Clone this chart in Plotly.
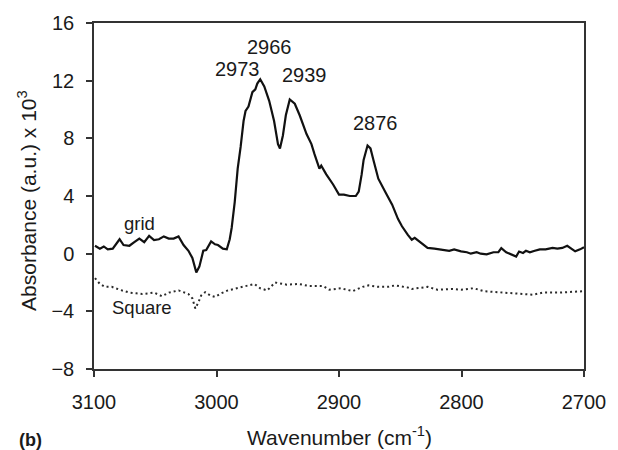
import plotly.graph_objects as go

# "grid" spectrum (solid)
grid_wn = [3099.2, 3095.2, 3092.0, 3088.8, 3084.7, 3082.3, 3079.1, 3075.9, 3071.1, 3067.1,
           3063.0, 3059.0, 3055.0, 3051.0, 3047.0, 3043.0, 3039.0, 3035.0, 3031.0, 3026.9,
           3022.9, 3019.7, 3016.5, 3014.0, 3010.8, 3008.4, 3004.4, 3001.2, 2998.8, 2994.8,
           2991.6, 2989.2, 2987.6, 2985.1, 2982.7, 2980.3, 2977.9, 2976.3, 2973.9, 2970.7,
           2968.3, 2966.7, 2964.3, 2961.0, 2957.0, 2953.0, 2949.8, 2948.2, 2945.8, 2943.4,
           2940.2, 2936.1, 2932.1, 2926.5, 2922.5, 2920.0, 2916.0, 2914.5, 2910.4, 2904.8,
           2900.0, 2896.0, 2891.2, 2886.3, 2883.9, 2881.5, 2879.9, 2876.7, 2874.3, 2871.9,
           2867.9, 2862.3, 2856.6, 2851.8, 2848.6, 2843.8, 2840.6, 2838.2, 2832.5, 2827.7,
           2822.1, 2816.5, 2814.1, 2810.0, 2806.0, 2800.4, 2795.6, 2792.4, 2787.6, 2784.3,
           2779.5, 2773.9, 2769.9, 2767.5, 2763.5, 2759.4, 2755.4, 2753.0, 2749.8, 2747.4,
           2744.2, 2740.2, 2736.1, 2731.3, 2725.7, 2721.7, 2717.7, 2713.7, 2709.6, 2707.2,
           2703.2, 2700.0]
grid_abs = [0.55, 0.35, 0.5, 0.3, 0.35, 0.6, 1.0, 0.6, 0.55, 0.8,
            1.05, 0.8, 1.24, 0.95, 1.0, 1.2, 1.05, 1.05, 1.2, 0.6,
            0.2, -0.3, -1.3, -0.9, 0.2, 0.25, 0.85, 0.65, 0.6, 0.35,
            0.3, 1.0, 1.8, 3.6, 5.9, 7.4, 9.2, 9.9, 10.2, 11.2,
            11.4, 11.8, 12.1, 11.6, 10.6, 9.2, 7.6, 7.3, 8.2, 9.6,
            10.7, 10.4, 9.6, 8.3, 7.6, 6.9, 5.9, 6.1, 5.5, 4.8,
            4.1, 4.1, 4.0, 4.0, 4.3, 5.5, 6.5, 7.5, 7.3, 6.5,
            5.2, 4.3, 3.4, 2.4, 1.9, 1.3, 0.97, 1.1, 0.7, 0.4,
            0.35, 0.3, 0.27, 0.2, 0.3, 0.16, 0.1, 0.0, 0.1, 0.0,
            -0.05, 0.1, 0.1, 0.38, 0.1, -0.05, -0.2, 0.15, 0.05, 0.2,
            0.1, 0.2, 0.3, 0.3, 0.4, 0.35, 0.4, 0.55, 0.3, 0.16,
            0.3, 0.45]

# "Square" spectrum (dotted)
square_wn = [3099.2, 3095.2, 3091.2, 3085.5, 3079.1, 3071.1, 3065.5, 3060.6, 3055.0, 3051.0,
             3044.5, 3038.9, 3030.9, 3026.1, 3022.9, 3019.7, 3017.3, 3014.9, 3012.5, 3009.2,
             3005.2, 3001.2, 2996.4, 2990.8, 2982.7, 2974.7, 2969.1, 2964.3, 2958.6, 2952.2,
             2942.6, 2932.9, 2924.1, 2912.9, 2908.0, 2898.4, 2888.8, 2880.7, 2875.9, 2867.9,
             2859.8, 2854.2, 2843.8, 2840.6, 2827.7, 2819.7, 2808.4, 2800.4, 2790.0, 2781.9,
             2765.9, 2752.2, 2741.8, 2733.7, 2720.1, 2700.0]
square_abs = [-1.7, -2.1, -2.3, -2.3, -2.5, -2.7, -2.75, -2.8, -2.75, -2.7,
              -2.95, -2.7, -2.55, -2.7, -2.8, -3.1, -3.8, -3.4, -2.9, -2.67,
              -2.9, -3.0, -2.76, -2.55, -2.4, -2.2, -2.1, -2.4, -2.55, -2.0,
              -2.15, -2.1, -2.25, -2.25, -2.5, -2.4, -2.6, -2.3, -2.2, -2.3,
              -2.3, -2.2, -2.35, -2.45, -2.3, -2.5, -2.45, -2.5, -2.4, -2.6,
              -2.7, -2.8, -2.85, -2.7, -2.7, -2.6]

x_ticks = [3100, 3000, 2900, 2800, 2700]
y_ticks = [-8, -4, 0, 4, 8, 12, 16]

FONT = "Liberation Sans, Arial, sans-serif"
TXT = "#1a1a1a"

fig = go.Figure()
fig.add_trace(go.Scatter(x=grid_wn, y=grid_abs, mode="lines",
                         line=dict(color="#111111", width=2.2), name="grid"))
fig.add_trace(go.Scatter(x=square_wn, y=square_abs, mode="lines",
                         line=dict(color="#2a2a2a", width=2, dash="2px,3px"), name="Square"))

peak_labels = [("2973", 2982.7, 12.83, 20), ("2966", 2957.0, 14.34, 20),
               ("2939", 2928.1, 12.41, 20), ("2876", 2870.3, 9.03, 20),
               ("grid", 3063.1, 2.07, 18.5), ("Square", 3060.6, -3.75, 18.5)]
for txt, xx, yy, fs in peak_labels:
    fig.add_annotation(x=xx, y=yy, text=txt, showarrow=False,
                       xanchor="center", yanchor="middle",
                       font=dict(family=FONT, size=fs, color=TXT))

fig.add_annotation(xref="paper", yref="paper", x=0.5, y=-0.195,
                   text="Wavenumber (cm<sup>-1</sup>)", showarrow=False,
                   xanchor="center", yanchor="middle",
                   font=dict(family=FONT, size=21, color=TXT))
fig.add_annotation(xref="paper", yref="paper", x=-0.1365, y=0.486,
                   text="Absorbance (a.u.) x 10<sup>3</sup>", showarrow=False,
                   textangle=-90, xanchor="center", yanchor="middle",
                   font=dict(family=FONT, size=21, color=TXT))
fig.add_annotation(xref="paper", yref="paper", x=-0.1305, y=-0.204,
                   text="<b>(b)</b>", showarrow=False,
                   xanchor="center", yanchor="middle",
                   font=dict(family=FONT, size=18, color=TXT))

fig.update_layout(
    width=618, height=450,
    margin=dict(l=94, r=26, t=21, b=81),
    paper_bgcolor="white", plot_bgcolor="white",
    showlegend=False,
    font=dict(family=FONT, color=TXT),
)
fig.update_xaxes(range=[3100, 2700], tickvals=x_ticks, ticks="outside", ticklen=6,
                 tickwidth=1.5, tickcolor="#333", showline=True, linecolor="#333",
                 linewidth=1.5, mirror=True, showgrid=False, zeroline=False,
                 tickfont=dict(family=FONT, size=20, color=TXT), ticklabelstandoff=8)
fig.update_yaxes(range=[-8, 16], tickvals=y_ticks, ticks="outside", ticklen=6,
                 tickwidth=1.5, tickcolor="#333", showline=True, linecolor="#333",
                 linewidth=1.5, mirror=True, showgrid=False, zeroline=False,
                 tickfont=dict(family=FONT, size=20, color=TXT), ticklabelstandoff=8)

fig.write_html("out.html", config={"displayModeBar": False},
               post_script="document.body.style.margin='0';")
